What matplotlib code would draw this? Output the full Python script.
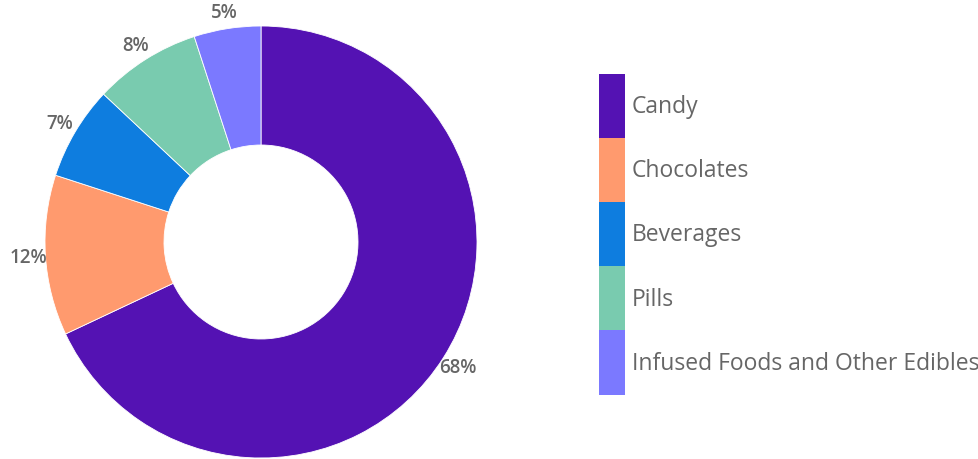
import matplotlib
matplotlib.use('Agg')
from matplotlib import pyplot as plt
from matplotlib.patches import Patch

# segment data
categories = ['Candy', 'Chocolates', 'Beverages', 'Pills', 'Infused Foods and Other Edibles']
shares = [68, 12, 7, 8, 5]
pct_labels = ['68%', '12%', '7%', '8%', '5%']
colors = ['#5412B3', '#FF9A6E', '#0E7DDF', '#79CBAF', '#7B79FF']

plt.rcParams['font.family'] = ['Open Sans', 'DejaVu Sans']
txt = '#666666'

W, H = 979, 460
fig = plt.figure(figsize=(W/100, H/100), dpi=100)
fig.patch.set_facecolor('white')

# pie axes: centre (261,243), radius 216 px
r = 216
ax = fig.add_axes([(261-r)/W, (H-243-r)/H, 2*r/W, 2*r/H])
wedges, texts = ax.pie(shares, colors=colors, startangle=90, counterclock=False,
                       labels=pct_labels, labeldistance=1.08,
                       wedgeprops=dict(width=1-97/216, edgecolor='white', linewidth=0.6),
                       textprops=dict(color=txt, fontsize=13.5, fontweight='semibold'))
for t in texts:
    t.set_ha('center')
    t.set_va('center')
ax.set_xlim(-1, 1)
ax.set_ylim(-1, 1)
ax.set_aspect('equal')
ax.axis('off')

# legend as stacked colour blocks
handles = [Patch(facecolor=c, edgecolor='none') for c in colors]
fs = 16.5
px = fs * 100 / 72
fig.legend(handles, categories, loc='upper left', bbox_to_anchor=(599/W, 1-75/H),
           frameon=False, fontsize=fs, labelcolor=txt,
           handlelength=26/px, handleheight=64.8/fs, handletextpad=7/px,
           labelspacing=0, borderpad=0, borderaxespad=0)

fig.savefig('out.png', dpi=100)
